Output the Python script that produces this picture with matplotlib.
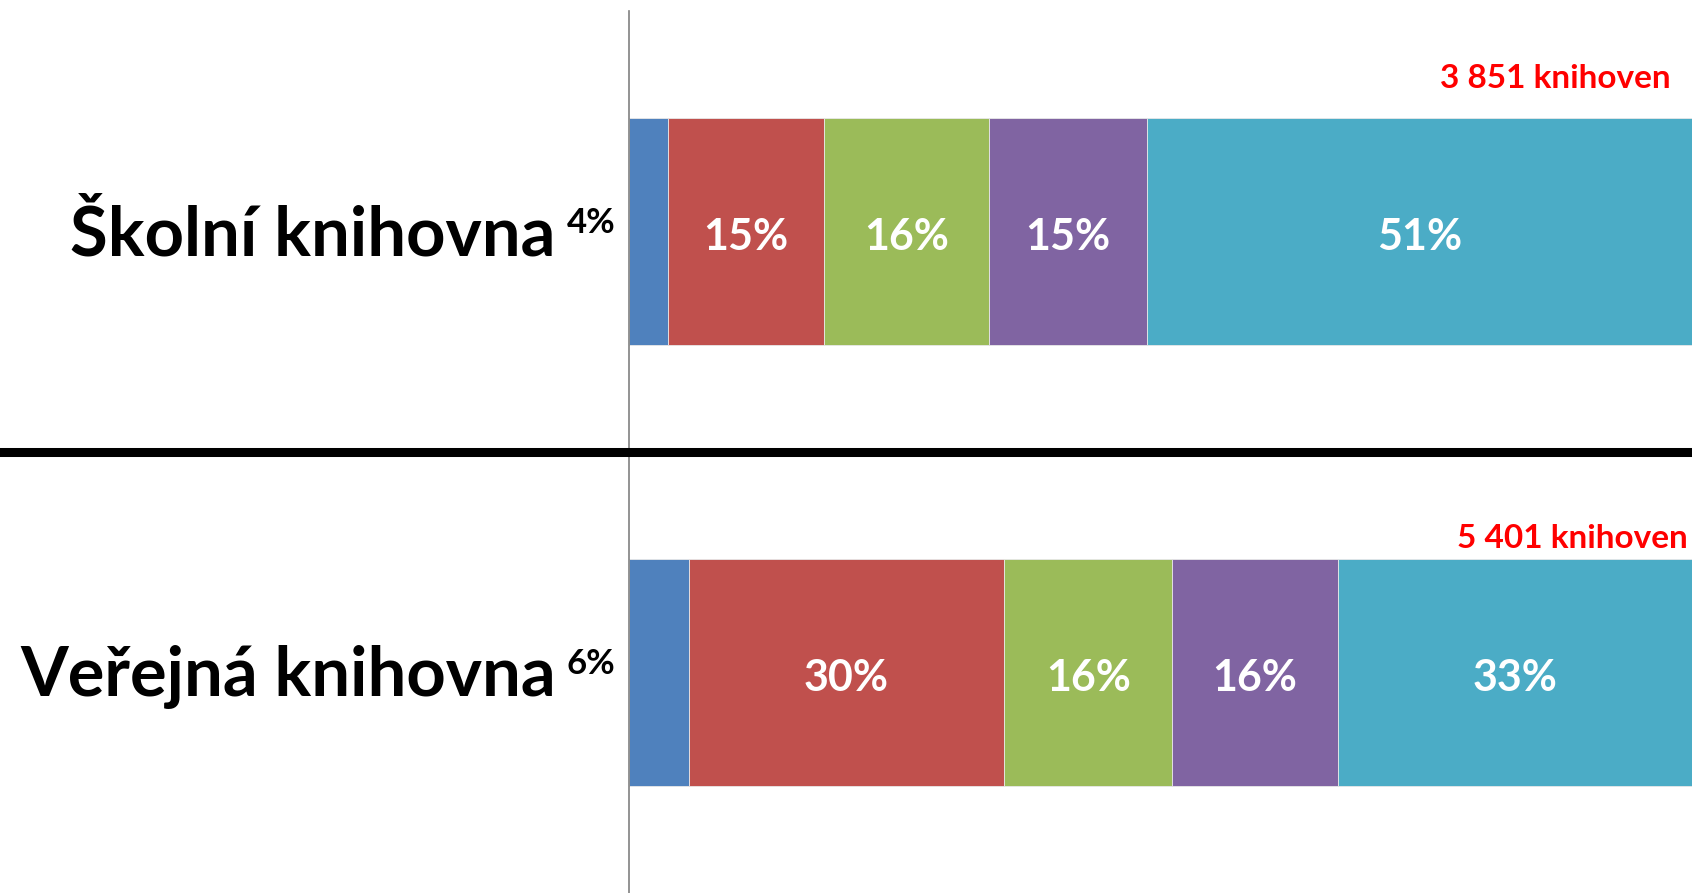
import matplotlib
matplotlib.use("Agg")
import matplotlib.pyplot as plt
from matplotlib import transforms
from matplotlib.lines import Line2D

plt.rcParams['font.family'] = ['Lato', 'DejaVu Sans']

# data (shares in %, top category first)
categories = ['Školní knihovna', 'Veřejná knihovna']
totals = ['3 851 knihoven', '5 401 knihoven']
shares = [
    [3.7, 14.6, 15.6, 14.8, 51.3],
    [5.6, 29.7, 15.8, 15.6, 33.3],
]
labels = [
    ['4%', '15%', '16%', '15%', '51%'],
    ['6%', '30%', '16%', '16%', '33%'],
]
colors = ['#4F81BD', '#C0504D', '#9BBB59', '#8064A2', '#4BACC6']

fig = plt.figure(figsize=(16.92, 8.93), dpi=100)
ax = fig.add_axes([629 / 1692, 0, 1 - 629 / 1692, 1 - 11 / 893])

ypos = [1, 0]
total_dy = [0.347, 0.303]
total_x = [98.0, 99.6]
for row, y in enumerate(ypos):
    left = 0
    for k, val in enumerate(shares[row]):
        ax.barh(y, val, left=left, height=0.515, color=colors[k],
                edgecolor='#e8e8e8', linewidth=0.6)
        if k > 0:
            ax.text(left + val / 2, y - 0.012, labels[row][k], ha='center', va='center',
                    color='white', fontsize=31, fontweight='bold')
        left += val
    # first (small) share sits outside, left of the axis
    ax.text(-1.3, y + 0.02, labels[row][0], ha='right', va='center',
            color='black', fontsize=25, fontweight='bold')
    ax.text(-6.9, y - 0.01, categories[row], ha='right', va='center',
            color='black', fontsize=49.5, fontweight='bold')
    ax.text(total_x[row], y + total_dy[row], totals[row], ha='right', va='center',
            color='red', fontsize=24, fontweight='bold')

ax.set_xlim(0, 100)
ax.set_ylim(-0.5, 1.5)
ax.set_xticks([])
ax.set_yticks([])
for side in ['top', 'right', 'bottom']:
    ax.spines[side].set_visible(False)
ax.spines['left'].set_color('#808080')
ax.spines['left'].set_linewidth(1.2)

# thick black separator across the whole figure
tr = transforms.blended_transform_factory(fig.transFigure, ax.transData)
fig.add_artist(Line2D([0, 1], [0.5, 0.5], transform=tr, color='black', linewidth=6.5))

fig.savefig('out.png', dpi=100)
